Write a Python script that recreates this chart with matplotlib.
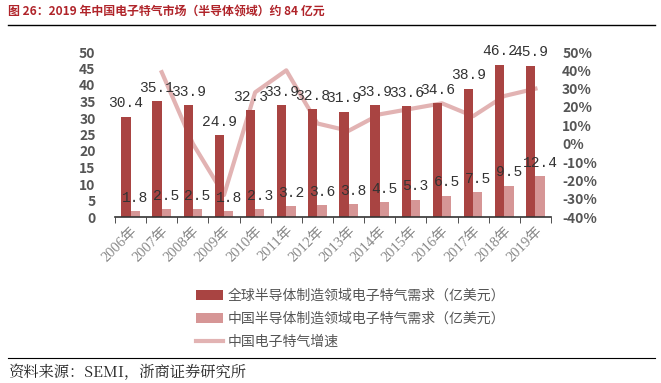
import numpy as np
import matplotlib.pyplot as plt

plt.rcParams['font.family'] = ['Noto Sans CJK SC', 'DejaVu Sans']

years = ["2006年", "2007年", "2008年", "2009年", "2010年", "2011年", "2012年",
         "2013年", "2014年", "2015年", "2016年", "2017年", "2018年", "2019年"]
global_demand = [30.4, 35.1, 33.9, 24.9, 32.3, 33.9, 32.8, 31.9, 33.9, 33.6, 34.6, 38.9, 46.2, 45.9]
china_demand = [1.8, 2.5, 2.5, 1.8, 2.3, 3.2, 3.6, 3.8, 4.5, 5.3, 6.5, 7.5, 9.5, 12.4]
china_growth = [None, 39, 0, -28, 28, 40, 11, 7, 16, 19, 22, 15, 26, 30]

dark = "#A94442"
light = "#D69696"
line_c = "#E2B3B3"
gray = "#555555"

fig = plt.figure(figsize=(6.61, 3.83), dpi=100)
ax = fig.add_axes([115 / 661, 1 - 217 / 383, 436 / 661, 165 / 383])
ax2 = ax.twinx()
ax.set_zorder(ax2.get_zorder() + 1)
ax.patch.set_visible(False)

x = np.arange(len(years))
w = 0.3
b1 = ax.bar(x - w / 2, global_demand, w, color=dark, label="全球半导体制造领域电子特气需求（亿美元）")
b2 = ax.bar(x + w / 2, china_demand, w, color=light, label="中国半导体制造领域电子特气需求（亿美元）")

gx = [i for i, g in zip(x, china_growth) if g is not None]
gy = [g for g in china_growth if g is not None]
ln, = ax2.plot(gx, gy, color=line_c, lw=3, label="中国电子特气增速")

for xi, v in zip(x, global_demand):
    ax.annotate(f"{v}", (xi - w / 2, v), xytext=(0, 4.5), textcoords="offset points",
                ha="center", va="bottom", fontsize=10.5, family="Liberation Mono",
                color="#333333")
for xi, v in zip(x, china_demand):
    ax.annotate(f"{v}", (xi + w / 2, v), xytext=(0, 4.5), textcoords="offset points",
                ha="center", va="bottom", fontsize=10.5, family="Liberation Mono",
                color="#333333")

ax.set_xlim(-0.5, len(years) - 0.5)
ax.set_ylim(0, 50)
ax.set_yticks(range(0, 51, 5))
ax2.set_ylim(-40, 50)
ax2.set_yticks(range(-40, 51, 10))
ax2.set_yticklabels([f"{t}%" for t in range(-40, 51, 10)])

ax.set_xticks(x)
ax.set_xticklabels(years, rotation=45, ha="right", rotation_mode="anchor",
                   fontsize=10.5, color="#888888", family=["Liberation Serif", "Noto Sans CJK SC"])
ax.set_xticks(np.arange(-0.5, len(years), 1), minor=True)
ax.tick_params(axis="x", which="major", length=0, pad=5)
ax.tick_params(axis="x", which="minor", length=4, direction="out", color="#333333")
ax.tick_params(axis="y", length=0, labelsize=10, labelcolor=gray, pad=14)
ax2.tick_params(axis="y", length=0, labelsize=10, labelcolor=gray, pad=8)
for lab in ax.get_yticklabels() + ax2.get_yticklabels():
    lab.set_fontweight("bold")

for a in (ax, ax2):
    for s in ("top", "left", "right"):
        a.spines[s].set_visible(False)
ax2.spines["bottom"].set_visible(False)
ax.spines["bottom"].set_color("#333333")
ax.spines["bottom"].set_linewidth(1.2)

fig.legend(handles=[b1, b2, ln], loc="upper left", bbox_to_anchor=(183 / 661, 1 - 276 / 383),
           frameon=False, fontsize=10, labelcolor=gray, handlelength=2.0, handletextpad=0.3,
           labelspacing=0.65)

fig.text(8 / 661, 1 - 12 / 383, "图 26：2019 年中国电子特气市场（半导体领域）约 84 亿元",
         fontsize=8.6, fontweight="bold", color="#B0242A", va="center")
fig.add_artist(plt.Line2D([8 / 661, 655 / 661], [1 - 25 / 383] * 2, color="black", lw=1))
fig.add_artist(plt.Line2D([8 / 661, 655 / 661], [1 - 358 / 383] * 2, color="black", lw=0.8))
fig.text(8 / 661, 1 - 373 / 383, "资料来源：SEMI，浙商证券研究所", fontsize=11, va="center",
         color="#222222", family=["Noto Serif CJK SC", "Liberation Serif", "Noto Sans CJK SC"])

fig.savefig("out.png", dpi=100)
